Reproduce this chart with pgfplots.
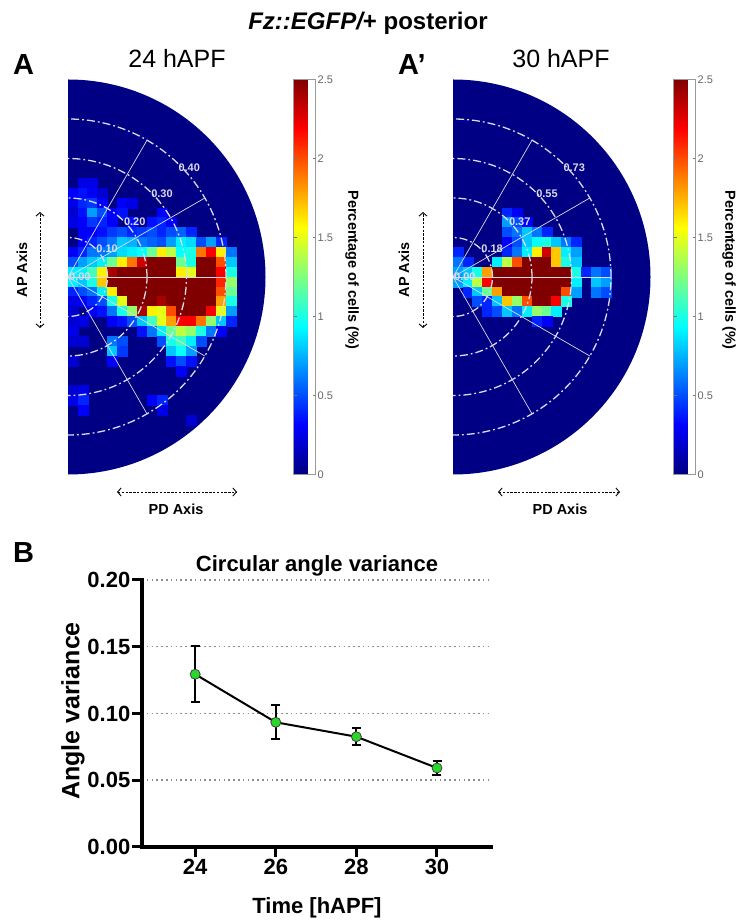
\documentclass[border=0pt]{standalone}
\usepackage{fontspec}
\setmainfont{Liberation Sans}
\usepackage{pgfplots}
\usepackage{pgfplotstable}
\pgfplotsset{compat=1.18}
\usetikzlibrary{arrows.meta}

\definecolor{jetbg}{RGB}{0,0,132}
\definecolor{ringc}{RGB}{218,218,232}
\definecolor{dotgreen}{RGB}{40,215,40}

\pgfplotsset{
  /pgf/number format/assume math mode=true,
  heat/.style={
    x=39.5pt, y=39.5pt, xmin=0, xmax=5, ymin=-5, ymax=5,
    hide axis, anchor=origin, colormap/jet,
    point meta min=0, point meta max=2.5,
    clip marker paths=true,
    colorbar,
    colorbar style={
      at={(parent axis.north east)}, anchor=north west,
      width=22pt,
      ytick={0,0.5,1,1.5,2,2.5},
      yticklabel pos=right,
      yticklabel style={font=\fontsize{11}{11}\selectfont, text=black!60, inner sep=2pt},
      axis line style={black!40, line width=0.3pt},
      major tick length=3pt, tick style={black!55},
    },
  },
}
\tikzset{
  ring/.style={ringc, line width=1.3pt, dash pattern=on 8pt off 3pt on 1.8pt off 3pt},
  spoke/.style={ringc, line width=0.7pt},
  rlab/.style={text=ringc, font=\bfseries\fontsize{11}{11}\selectfont, inner sep=0pt},
  dasharrow/.style={line width=0.9pt, dash pattern=on 2.4pt off 1.4pt,
    {Straight Barb[length=3.5pt,width=8pt]}-{Straight Barb[length=3.5pt,width=8pt]}},
  axlab/.style={font=\bfseries\fontsize{14.5}{14.5}\selectfont},
  plab/.style={font=\bfseries\fontsize{29}{29}\selectfont, anchor=base west, inner sep=0pt},
  hlab/.style={font=\fontsize{25}{25}\selectfont, anchor=base, inner sep=0pt},
}

% cells of the 24 hAPF histogram: x y value (percentage of cells)
\pgfplotstableread[row sep=\\]{
x y c \\
0.375 2.375 0.25 \\ 0.625 2.375 0.25 \\
0.125 2.125 0.3 \\ 0.375 2.125 0.35 \\ 0.625 2.125 0.3 \\ 0.875 2.125 0.2 \\
0.125 1.875 0.25 \\ 0.375 1.875 0.4 \\ 0.625 1.875 0.45 \\ 0.875 1.875 0.3 \\ 1.375 1.875 0.3 \\ 1.625 1.875 0.25 \\
0.125 1.625 0.2 \\ 0.375 1.625 0.35 \\ 0.625 1.625 0.7 \\ 0.875 1.625 0.5 \\ 1.125 1.625 0.3 \\ 1.375 1.625 0.35 \\ 2.375 1.625 0.3 \\
0.125 1.375 0.25 \\ 0.375 1.375 0.3 \\ 0.625 1.375 0.45 \\ 0.875 1.375 0.4 \\ 1.125 1.375 0.3 \\ 1.625 1.375 0.35 \\ 2.125 1.375 0.35 \\ 2.375 1.375 0.4 \\ 2.625 1.375 0.3 \\
0.375 1.125 0.3 \\ 0.625 1.125 0.3 \\ 0.875 1.125 0.35 \\ 1.125 1.125 0.45 \\ 1.375 1.125 0.5 \\ 1.625 1.125 0.4 \\ 1.875 1.125 0.45 \\ 2.125 1.125 0.5 \\ 2.375 1.125 0.4 \\ 2.625 1.125 0.5 \\ 2.875 1.125 0.55 \\ 3.125 1.125 0.4 \\
0.375 0.875 0.3 \\ 0.625 0.875 0.4 \\ 0.875 0.875 0.5 \\ 1.125 0.875 0.6 \\ 1.375 0.875 0.8 \\ 1.625 0.875 0.75 \\ 1.875 0.875 0.6 \\ 2.125 0.875 0.55 \\ 2.375 0.875 0.5 \\ 2.625 0.875 0.7 \\ 2.875 0.875 0.9 \\ 3.125 0.875 0.85 \\ 3.375 0.875 0.5 \\ 3.625 0.875 0.7 \\ 3.875 0.875 0.4 \\
0.125 0.625 0.3 \\ 0.375 0.625 0.4 \\ 0.625 0.625 0.6 \\ 0.875 0.625 0.6 \\ 1.125 0.625 0.7 \\ 1.375 0.625 0.85 \\ 1.625 0.625 0.9 \\ 1.875 0.625 0.95 \\ 2.125 0.625 1.2 \\ 2.375 0.625 1.6 \\ 2.625 0.625 1.4 \\ 2.875 0.625 0.95 \\ 3.125 0.625 1.0 \\ 3.375 0.625 1.9 \\ 3.625 0.625 2.2 \\ 3.875 0.625 1.6 \\ 4.125 0.625 0.6 \\
0.125 0.375 0.5 \\ 0.375 0.375 0.7 \\ 0.625 0.375 0.8 \\ 0.875 0.375 0.9 \\ 1.125 0.375 1.2 \\ 1.375 0.375 1.6 \\ 1.625 0.375 1.9 \\ 1.875 0.375 2.3 \\ 2.125 0.375 2.8 \\ 2.375 0.375 2.8 \\ 2.625 0.375 2.5 \\ 2.875 0.375 1.2 \\ 3.125 0.375 1.0 \\ 3.375 0.375 2.8 \\ 3.625 0.375 2.8 \\ 3.875 0.375 2.0 \\ 4.125 0.375 0.8 \\
0.125 0.125 0.9 \\ 0.375 0.125 0.9 \\ 0.625 0.125 1.1 \\ 0.875 0.125 1.6 \\ 1.125 0.125 2.4 \\ 1.375 0.125 2.8 \\ 1.625 0.125 2.8 \\ 1.875 0.125 2.8 \\ 2.125 0.125 2.8 \\ 2.375 0.125 2.8 \\ 2.625 0.125 2.6 \\ 2.875 0.125 1.6 \\ 3.125 0.125 1.5 \\ 3.375 0.125 2.8 \\ 3.625 0.125 2.8 \\ 3.875 0.125 2.2 \\ 4.125 0.125 1.0 \\
0.125 -0.125 0.9 \\ 0.375 -0.125 0.8 \\ 0.625 -0.125 1.0 \\ 0.875 -0.125 1.7 \\ 1.125 -0.125 2.8 \\ 1.375 -0.125 2.8 \\ 1.625 -0.125 2.8 \\ 1.875 -0.125 2.8 \\ 2.125 -0.125 2.8 \\ 2.375 -0.125 2.8 \\ 2.625 -0.125 2.8 \\ 2.875 -0.125 2.8 \\ 3.125 -0.125 2.8 \\ 3.375 -0.125 2.8 \\ 3.625 -0.125 2.8 \\ 3.875 -0.125 2.1 \\ 4.125 -0.125 1.3 \\
0.125 -0.375 0.4 \\ 0.375 -0.375 0.5 \\ 0.625 -0.375 0.6 \\ 0.875 -0.375 0.9 \\ 1.125 -0.375 1.6 \\ 1.375 -0.375 2.8 \\ 1.625 -0.375 2.8 \\ 1.875 -0.375 2.8 \\ 2.125 -0.375 2.8 \\ 2.375 -0.375 2.8 \\ 2.625 -0.375 2.8 \\ 2.875 -0.375 2.8 \\ 3.125 -0.375 2.8 \\ 3.375 -0.375 2.8 \\ 3.625 -0.375 2.6 \\ 3.875 -0.375 2.0 \\ 4.125 -0.375 1.2 \\
0.125 -0.625 0.25 \\ 0.375 -0.625 0.3 \\ 0.625 -0.625 0.4 \\ 0.875 -0.625 0.5 \\ 1.125 -0.625 1.0 \\ 1.375 -0.625 1.5 \\ 1.625 -0.625 2.6 \\ 1.875 -0.625 2.8 \\ 2.125 -0.625 2.5 \\ 2.375 -0.625 2.4 \\ 2.625 -0.625 2.6 \\ 2.875 -0.625 2.8 \\ 3.125 -0.625 2.8 \\ 3.375 -0.625 2.8 \\ 3.625 -0.625 2.5 \\ 3.875 -0.625 1.8 \\ 4.125 -0.625 1.0 \\
0.125 -0.875 0.2 \\ 0.625 -0.875 0.3 \\ 0.875 -0.875 0.35 \\ 1.125 -0.875 0.6 \\ 1.375 -0.875 1.0 \\ 1.625 -0.875 1.3 \\ 1.875 -0.875 2.4 \\ 2.125 -0.875 1.6 \\ 2.375 -0.875 1.5 \\ 2.625 -0.875 2.0 \\ 2.875 -0.875 2.8 \\ 3.125 -0.875 2.8 \\ 3.375 -0.875 2.8 \\ 3.625 -0.875 2.2 \\ 3.875 -0.875 1.5 \\ 4.125 -0.875 0.7 \\
0.125 -1.125 0.2 \\ 0.375 -1.125 0.25 \\ 1.125 -1.125 0.3 \\ 1.375 -1.125 0.35 \\ 1.625 -1.125 0.5 \\ 1.875 -1.125 0.8 \\ 2.125 -1.125 1.1 \\ 2.375 -1.125 1.5 \\ 2.625 -1.125 1.8 \\ 2.875 -1.125 2.2 \\ 3.125 -1.125 2.2 \\ 3.375 -1.125 1.9 \\ 3.625 -1.125 1.3 \\ 3.875 -1.125 0.8 \\ 4.125 -1.125 0.4 \\
0.125 -1.375 0.25 \\ 1.875 -1.375 0.35 \\ 2.125 -1.375 0.6 \\ 2.375 -1.375 0.9 \\ 2.625 -1.375 1.2 \\ 2.875 -1.375 1.4 \\ 3.125 -1.375 1.3 \\ 3.375 -1.375 1.0 \\ 3.625 -1.375 0.6 \\ 3.875 -1.375 0.3 \\
0.125 -1.625 0.2 \\ 0.375 -1.625 0.2 \\ 1.125 -1.625 0.6 \\ 1.375 -1.625 0.5 \\ 2.375 -1.625 0.5 \\ 2.625 -1.625 1.0 \\ 2.875 -1.625 1.1 \\ 3.125 -1.625 0.9 \\ 3.375 -1.625 0.5 \\
1.125 -1.875 0.8 \\ 1.375 -1.875 0.45 \\ 2.625 -1.875 0.8 \\ 2.875 -1.875 0.95 \\ 3.125 -1.875 0.7 \\
0.125 -2.125 0.2 \\ 1.125 -2.125 0.3 \\ 2.625 -2.125 0.35 \\ 2.875 -2.125 0.5 \\ 3.125 -2.125 0.35 \\
2.875 -2.375 0.3 \\
0.125 -2.875 0.2 \\ 0.375 -2.875 0.25 \\
0.125 -3.125 0.25 \\ 0.375 -3.125 0.4 \\ 2.125 -3.125 0.3 \\ 2.375 -3.125 0.4 \\
0.375 -3.375 0.3 \\ 2.375 -3.375 0.25 \\
3.125 -3.625 0.2 \\
}\cellsA

% cells of the 30 hAPF histogram
\pgfplotstableread[row sep=\\]{
x y c \\
1.375 1.625 0.4 \\ 1.625 1.625 0.3 \\
1.375 1.375 0.7 \\ 1.625 1.375 0.5 \\ 1.875 1.375 0.3 \\
1.375 1.125 0.5 \\ 1.625 1.125 0.6 \\ 1.875 1.125 0.8 \\ 2.125 1.125 0.6 \\ 2.375 1.125 0.4 \\
1.375 0.875 0.3 \\ 1.625 0.875 0.5 \\ 1.875 0.875 0.8 \\ 2.125 0.875 0.95 \\ 2.375 0.875 1.0 \\ 2.625 0.875 0.8 \\ 2.875 0.875 0.6 \\ 3.125 0.875 0.4 \\
0.125 0.625 0.4 \\ 1.375 0.625 0.4 \\ 1.625 0.625 0.6 \\ 1.875 0.625 0.9 \\ 2.125 0.625 1.6 \\ 2.375 0.625 2.3 \\ 2.625 0.625 1.7 \\ 2.875 0.625 0.9 \\ 3.125 0.625 0.7 \\
0.125 0.375 0.6 \\ 0.375 0.375 0.4 \\ 1.125 0.375 0.9 \\ 1.375 0.375 1.4 \\ 1.625 0.375 2.0 \\ 1.875 0.375 2.8 \\ 2.125 0.375 2.8 \\ 2.375 0.375 2.8 \\ 2.625 0.375 1.7 \\ 2.875 0.375 1.0 \\ 3.125 0.375 0.8 \\
0.125 0.125 0.7 \\ 0.375 0.125 0.8 \\ 0.625 0.125 1.0 \\ 0.875 0.125 1.8 \\ 1.125 0.125 2.8 \\ 1.375 0.125 2.8 \\ 1.625 0.125 2.8 \\ 1.875 0.125 2.8 \\ 2.125 0.125 2.8 \\ 2.375 0.125 2.8 \\ 2.625 0.125 2.8 \\ 2.875 0.125 2.6 \\ 3.125 0.125 1.0 \\ 3.375 0.125 0.4 \\ 3.625 0.125 0.6 \\ 3.875 0.125 0.5 \\
0.125 -0.125 0.7 \\ 0.375 -0.125 0.9 \\ 0.625 -0.125 1.4 \\ 0.875 -0.125 2.2 \\ 1.125 -0.125 2.8 \\ 1.375 -0.125 2.8 \\ 1.625 -0.125 2.8 \\ 1.875 -0.125 2.8 \\ 2.125 -0.125 2.8 \\ 2.375 -0.125 2.8 \\ 2.625 -0.125 2.8 \\ 2.875 -0.125 2.8 \\ 3.125 -0.125 0.9 \\ 3.625 -0.125 0.8 \\ 3.875 -0.125 0.7 \\
0.375 -0.375 0.4 \\ 0.625 -0.375 0.8 \\ 0.875 -0.375 1.2 \\ 1.125 -0.375 1.8 \\ 1.375 -0.375 2.8 \\ 1.625 -0.375 2.8 \\ 1.875 -0.375 2.8 \\ 2.125 -0.375 2.8 \\ 2.375 -0.375 2.8 \\ 2.625 -0.375 2.8 \\ 2.875 -0.375 2.0 \\ 3.125 -0.375 0.7 \\ 3.625 -0.375 0.6 \\ 3.875 -0.375 0.5 \\
0.625 -0.625 0.5 \\ 0.875 -0.625 0.4 \\ 1.125 -0.625 0.8 \\ 1.375 -0.625 1.7 \\ 1.625 -0.625 1.3 \\ 1.875 -0.625 2.0 \\ 2.125 -0.625 2.8 \\ 2.375 -0.625 2.8 \\ 2.625 -0.625 2.2 \\ 2.875 -0.625 1.0 \\
0.875 -0.875 0.4 \\ 1.125 -0.875 0.5 \\ 1.375 -0.875 0.8 \\ 1.625 -0.875 0.6 \\ 1.875 -0.875 0.9 \\ 2.125 -0.875 1.3 \\ 2.375 -0.875 1.2 \\ 2.625 -0.875 0.9 \\
2.125 -1.125 0.4 \\ 2.375 -1.125 0.3 \\
}\cellsB

\begin{document}
\begin{tikzpicture}
\useasboundingbox (0,0) rectangle (739pt,921pt);

% title
\node[font=\bfseries\fontsize{24}{24}\selectfont, anchor=base, inner sep=0pt] at (368pt,891pt) {{\itshape Fz::EGFP/}+ posterior};

% ---------- A : 24 hAPF ----------
\node[plab] at (13pt,846pt) {A};
\node[hlab] at (177pt,853pt) {24 hAPF};
\begin{axis}[heat, at={(68pt,644pt)}, colorbar style={xshift=19.5pt}]
  \fill[jetbg] (axis cs:0,0) circle[radius=197.5pt];
  \addplot[scatter, only marks, mark=square*, mark size=5pt, point meta=explicit,
    scatter/use mapped color={draw=mapped color, fill=mapped color}]
    table[x=x, y=y, meta=c] {\cellsA};
  \draw[ring] (axis cs:0,0) circle[radius=39.5pt];
  \draw[ring] (axis cs:0,0) circle[radius=79pt];
  \draw[ring] (axis cs:0,0) circle[radius=118.5pt];
  \draw[ring] (axis cs:0,0) circle[radius=158pt];
  \draw[spoke] (axis cs:0,0) -- ++(60:158pt);
  \draw[spoke] (axis cs:0,0) -- ++(30:158pt);
  \draw[spoke] (axis cs:0,0) -- ++(0:158pt);
  \draw[spoke] (axis cs:0,0) -- ++(-30:158pt);
  \draw[spoke] (axis cs:0,0) -- ++(-60:158pt);
  \node[rlab] at (axis cs:0.3,0) {0.00};
  \node[rlab] at (axis cs:0.99,0.71) {0.10};
  \node[rlab] at (axis cs:1.69,1.39) {0.20};
  \node[rlab] at (axis cs:2.38,2.1) {0.30};
  \node[rlab] at (axis cs:3.07,2.77) {0.40};
\end{axis}
\node[axlab, rotate=-90] at (352pt,651pt) {Percentage of cells (\%)};
\node[axlab, rotate=90] at (22pt,651pt) {AP Axis};
\draw[dasharrow] (40pt,593pt) -- (40pt,709pt);
\node[axlab] at (176pt,412pt) {PD Axis};
\draw[dasharrow] (117pt,429pt) -- (237pt,429pt);

% ---------- A' : 30 hAPF ----------
\node[plab] at (398pt,846pt) {A’};
\node[hlab] at (561pt,853pt) {30 hAPF};
\begin{axis}[heat, at={(453pt,644pt)}, colorbar style={xshift=14.5pt}]
  \fill[jetbg] (axis cs:0,0) circle[radius=197.5pt];
  \addplot[scatter, only marks, mark=square*, mark size=5pt, point meta=explicit,
    scatter/use mapped color={draw=mapped color, fill=mapped color}]
    table[x=x, y=y, meta=c] {\cellsB};
  \draw[ring] (axis cs:0,0) circle[radius=39.5pt];
  \draw[ring] (axis cs:0,0) circle[radius=79pt];
  \draw[ring] (axis cs:0,0) circle[radius=118.5pt];
  \draw[ring] (axis cs:0,0) circle[radius=158pt];
  \draw[spoke] (axis cs:0,0) -- ++(60:158pt);
  \draw[spoke] (axis cs:0,0) -- ++(30:158pt);
  \draw[spoke] (axis cs:0,0) -- ++(0:158pt);
  \draw[spoke] (axis cs:0,0) -- ++(-30:158pt);
  \draw[spoke] (axis cs:0,0) -- ++(-60:158pt);
  \node[rlab] at (axis cs:0.3,0) {0.00};
  \node[rlab] at (axis cs:0.99,0.71) {0.18};
  \node[rlab] at (axis cs:1.69,1.39) {0.37};
  \node[rlab] at (axis cs:2.38,2.1) {0.55};
  \node[rlab] at (axis cs:3.07,2.77) {0.73};
\end{axis}
\node[axlab, rotate=-90] at (729pt,651pt) {Percentage of cells (\%)};
\node[axlab, rotate=90] at (404pt,651pt) {AP Axis};
\draw[dasharrow] (423pt,593pt) -- (423pt,709pt);
\node[axlab] at (560pt,412pt) {PD Axis};
\draw[dasharrow] (498pt,429pt) -- (620pt,429pt);

% ---------- B : circular angle variance ----------
\node[plab] at (13pt,358pt) {B};
\node[font=\bfseries\fontsize{22}{22}\selectfont, anchor=base, inner sep=0pt] at (317pt,349pt) {Circular angle variance};
\begin{axis}[
  at={(142pt,74pt)}, anchor=south west,
  scale only axis, width=349pt, height=267pt,
  xmin=22.68, xmax=31.34, ymin=0, ymax=0.2,
  axis x line*=bottom, axis y line*=left,
  axis line style={-, line width=3.5pt, line cap=rect},
  xtick={24,26,28,30}, ytick={0,0.05,0.1,0.15,0.2},
  yticklabel style={/pgf/number format/.cd, fixed, fixed zerofill, precision=2},
  ticklabel style={font=\bfseries\fontsize{22}{22}\selectfont, inner sep=1.5pt},
  tick style={black, line width=3pt},
  major tick length=10pt, tick align=outside,
  ymajorgrids, grid style={black!45, line width=1.5pt, dash pattern=on 1.5pt off 3.3pt},
  clip=false,
]
  \addplot[black, line width=2pt, mark=*, mark size=5pt,
    scatter=false, point meta=none,
    mark options={fill=dotgreen, draw=black!75, line width=0.8pt},
    scatter/use mapped color={draw=black!75, fill=dotgreen},
    error bars/.cd, y dir=both, y explicit,
    error bar style={black, line width=2pt},
    error mark options={black, rotate=90, mark size=4.5pt, line width=2pt}]
  coordinates {
    (24,0.1294) +- (0,0.0210)
    (26,0.0934) +- (0,0.0128)
    (28,0.0826) +- (0,0.0064)
    (30,0.0592) +- (0,0.0052)
  };
\end{axis}
\node[font=\bfseries\fontsize{25}{25}\selectfont, rotate=90] at (73pt,210pt) {Angle variance};
\node[font=\bfseries\fontsize{22}{22}\selectfont, anchor=base, inner sep=0pt] at (317pt,8pt) {Time [hAPF]};
\end{tikzpicture}
\end{document}
